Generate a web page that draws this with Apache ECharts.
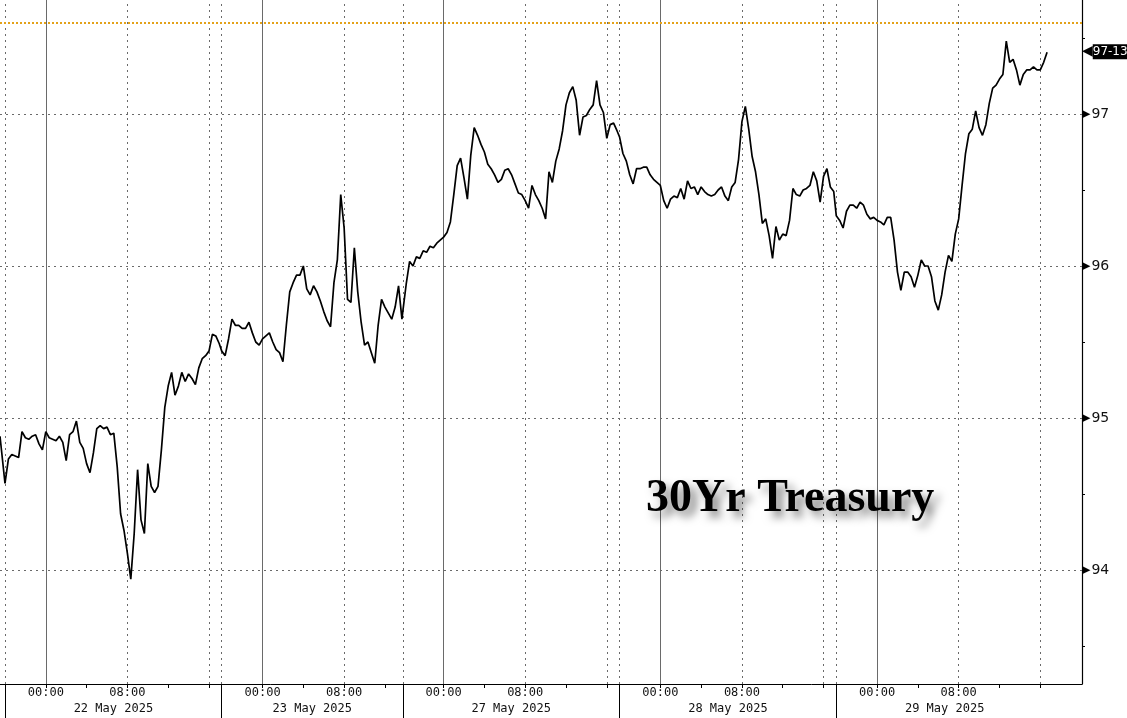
<!DOCTYPE html>
<html><head><meta charset="utf-8">
<script src="https://cdn.jsdelivr.net/npm/echarts@6/dist/echarts.min.js"></script>
<style>html,body{margin:0;padding:0;background:#fff}#c{width:1127px;height:718px}</style>
</head><body><div id="c"></div>
<script>
// ---- data (compressed trading-time axis, hours; each session opens 20:00 the prior evening) ----
const sessionLabels = ['22 May 2025', '23 May 2025', '27 May 2025', '28 May 2025', '29 May 2025'];
const sessionStartHours = [0, 21.25, 39.0, 60.25, 81.5];
const sessionLengthHours = [21.25, 17.75, 21.25, 21.25, 21.25];
const sessionOpenClock = 20;          // 20:00
const stepHours = 1 / 3;              // 20-minute samples
const prevSessionClose = [94.88];

const may22 = [94.57, 94.73, 94.76, 94.75, 94.74, 94.91, 94.87, 94.86, 94.88, 94.89,
  94.83, 94.79, 94.91, 94.87, 94.86, 94.85, 94.88, 94.84, 94.72, 94.89,
  94.91, 94.98, 94.84, 94.80, 94.70, 94.64, 94.77, 94.93, 94.95, 94.93,
  94.94, 94.89, 94.90, 94.68, 94.37, 94.26, 94.11, 93.94, 94.24, 94.66,
  94.33, 94.24, 94.70, 94.55, 94.51, 94.55, 94.79, 95.07, 95.21, 95.30,
  95.15, 95.21, 95.30, 95.24, 95.29, 95.26, 95.22, 95.33, 95.39, 95.41,
  95.44, 95.55, 95.54, 95.49];
const may23 = [95.44, 95.41, 95.52, 95.65, 95.61, 95.61, 95.59, 95.59, 95.63, 95.56,
  95.50, 95.48, 95.52, 95.54, 95.56, 95.50, 95.45, 95.43, 95.37, 95.61,
  95.83, 95.89, 95.94, 95.94, 96.00, 95.85, 95.81, 95.87, 95.83, 95.77,
  95.70, 95.64, 95.60, 95.89, 96.04, 96.47, 96.25, 95.78, 95.76, 96.12,
  95.83, 95.63, 95.48, 95.50, 95.43, 95.36, 95.61, 95.78, 95.73, 95.69,
  95.65, 95.73, 95.87, 95.65];
const may27 = [95.70, 95.88, 96.03, 96.00, 96.06, 96.05, 96.10, 96.09, 96.13, 96.12,
  96.15, 96.17, 96.19, 96.22, 96.29, 96.47, 96.66, 96.71, 96.58, 96.44,
  96.73, 96.91, 96.86, 96.80, 96.75, 96.67, 96.64, 96.60, 96.55, 96.57,
  96.63, 96.64, 96.60, 96.54, 96.48, 96.47, 96.43, 96.38, 96.53, 96.47,
  96.43, 96.38, 96.31, 96.62, 96.55, 96.69, 96.77, 96.89, 97.06, 97.14,
  97.18, 97.09, 96.86, 96.98, 96.99, 97.03, 97.06, 97.22, 97.06, 97.01,
  96.84, 96.93, 96.94, 96.89];
const may28 = [96.85, 96.74, 96.69, 96.60, 96.54, 96.64, 96.64, 96.65, 96.65, 96.60,
  96.57, 96.55, 96.53, 96.43, 96.38, 96.44, 96.46, 96.45, 96.51, 96.44,
  96.56, 96.51, 96.52, 96.47, 96.52, 96.49, 96.47, 96.46, 96.47, 96.50,
  96.52, 96.46, 96.43, 96.52, 96.55, 96.70, 96.95, 97.05, 96.90, 96.72,
  96.62, 96.47, 96.28, 96.31, 96.20, 96.05, 96.26, 96.17, 96.21, 96.20,
  96.30, 96.51, 96.47, 96.46, 96.50, 96.51, 96.53, 96.62, 96.56, 96.42,
  96.59, 96.64, 96.52, 96.49];
const may29 = [96.33, 96.30, 96.25, 96.36, 96.40, 96.40, 96.38, 96.42, 96.40, 96.34,
  96.31, 96.32, 96.30, 96.29, 96.27, 96.32, 96.32, 96.17, 95.96, 95.84,
  95.96, 95.96, 95.93, 95.86, 95.94, 96.04, 96.00, 96.00, 95.93, 95.77,
  95.71, 95.81, 95.96, 96.07, 96.03, 96.21, 96.31, 96.53, 96.74, 96.87,
  96.90, 97.02, 96.91, 96.86, 96.93, 97.07, 97.17, 97.19, 97.23, 97.26,
  97.48, 97.34, 97.36, 97.29, 97.19, 97.26, 97.29, 97.29, 97.31, 97.29,
  97.29, 97.34, 97.40625];
const sessionValues = [may22, may23, may27, may28, may29];

const yLabelValues = [94, 95, 96, 97];
const yMinorTickValues = [93.5, 94.5, 95.5, 96.5, 97.5];
const referenceLevel = 97.6;
const lastPriceLabel = '97-13';
const chartTitle = '30Yr Treasury';

// ---- build ----
const lineData = [[sessionStartHours[0] - 0.49, prevSessionClose[0]]];
sessionValues.forEach((arr, s) => arr.forEach((v, i) => lineData.push([sessionStartHours[s] + i * stepHours, v])));
const lastValue = may29[may29.length - 1];

const tickHours = [], timeLabelHours = [], gridLines = [], centers = [];
sessionStartHours.forEach((st, s) => {
  const len = sessionLengthHours[s];
  [4, 8, 12, 16, 20].forEach(k => { if (k < len) tickHours.push(st + k); });
  timeLabelHours.push(st + 4, st + 12);
  const dotted = { color: '#6a6a6a', type: [2, 4], width: 1 };
  gridLines.push({ xAxis: st, lineStyle: dotted });
  gridLines.push({ xAxis: st + 4, lineStyle: { color: '#6a6a6a', type: 'solid', width: 1 } });
  gridLines.push({ xAxis: st + 12, lineStyle: dotted });
  if (20 < len) gridLines.push({ xAxis: st + 20, lineStyle: dotted });
  centers.push(st + len / 2);
});
yLabelValues.forEach(v => gridLines.push({ yAxis: v, lineStyle: { color: '#6a6a6a', type: [2, 4], width: 1 } }));

function sessionOf(v) {
  let s = 0;
  sessionStartHours.forEach((st, i) => { if (st <= v + 1e-6) s = i; });
  return s;
}
const axisFont = "'DejaVu Sans Mono', monospace";

const chart = echarts.init(document.getElementById('c'), null, { renderer: 'canvas' });
chart.setOption({
  animation: false,
  backgroundColor: '#fff',
  title: {
    text: chartTitle, left: 641, top: 471,
    textStyle: {
      fontFamily: "'Liberation Serif', 'Times New Roman', serif", fontWeight: 'bold', fontSize: 46, color: '#000',
      textShadowColor: 'rgba(0,0,0,0.5)', textShadowBlur: 9, textShadowOffsetX: 6, textShadowOffsetY: 6
    }
  },
  grid: { left: 0, right: 45, top: 0, bottom: 34, containLabel: false },
  xAxis: [{
    type: 'value', min: -0.49, max: 105.59, position: 'bottom',
    axisLine: { show: true, onZero: false, lineStyle: { color: '#000', width: 1 } },
    axisTick: { show: true, customValues: tickHours, length: 4, lineStyle: { color: '#000' } },
    axisLabel: {
      show: true, customValues: timeLabelHours, margin: 3, color: '#111', fontFamily: axisFont, fontSize: 12,
      formatter: v => {
        const s = sessionOf(v);
        const h = Math.round(sessionOpenClock + v - sessionStartHours[s]) % 24;
        return String(h).padStart(2, '0') + ':00';
      }
    },
    splitLine: { show: false }
  }, {
    type: 'value', min: -0.49, max: 105.59, position: 'bottom',
    axisLine: { show: false, onZero: false },
    axisTick: { show: true, customValues: sessionStartHours, length: 34, lineStyle: { color: '#000', width: 1 } },
    axisLabel: {
      show: true, customValues: centers, margin: 19, color: '#111', fontFamily: axisFont, fontSize: 12,
      formatter: v => {
        let best = 0;
        centers.forEach((c, i) => { if (Math.abs(c - v) < Math.abs(centers[best] - v)) best = i; });
        return sessionLabels[best];
      }
    },
    splitLine: { show: false }
  }],
  yAxis: {
    type: 'value', position: 'right', min: 93.25, max: 97.75, interval: 0.25,
    axisLine: { show: true, onZero: false, lineStyle: { color: '#000', width: 1.2 } },
    axisTick: { show: true, customValues: yMinorTickValues, length: 3, lineStyle: { color: '#000' } },
    axisLabel: {
      show: true, customValues: yLabelValues, margin: 0, fontSize: 14, color: '#111',
      fontFamily: "'DejaVu Sans', sans-serif",
      formatter: v => '{t|▶}{v|' + v + '}',
      rich: {
        t: { fontSize: 11, color: '#000', fontFamily: "'DejaVu Sans', sans-serif" },
        v: { fontSize: 14, color: '#111', fontFamily: "'DejaVu Sans', sans-serif", padding: [0, 0, 0, 1] }
      }
    },
    splitLine: { show: false }
  },
  series: [{
    type: 'line', z: 1, xAxisIndex: 0, data: [lineData[0]], symbol: 'none', silent: true,
    lineStyle: { opacity: 0 },
    markLine: { silent: true, symbol: 'none', label: { show: false }, animation: false, data: gridLines }
  }, {
    type: 'line', z: 2, xAxisIndex: 0, data: [lineData[0]], symbol: 'none', silent: true,
    lineStyle: { opacity: 0 },
    markLine: {
      silent: true, symbol: 'none', label: { show: false }, animation: false,
      data: [{ yAxis: referenceLevel, lineStyle: { color: '#e3a21a', type: [2, 2], width: 2 } }]
    }
  }, {
    type: 'line', z: 5, xAxisIndex: 0, data: lineData, showSymbol: false, symbol: 'none',
    lineStyle: { color: '#000', width: 1.7 },
    markLine: {
      silent: true, symbol: 'none', animation: false,
      data: [{
        yAxis: lastValue, lineStyle: { color: 'rgba(0,0,0,0)', width: 0 },
        label: {
          show: true, position: 'end', distance: 0, fontSize: 12,
          fontFamily: "'DejaVu Sans', sans-serif",
          formatter: '{a|◀}{b|' + lastPriceLabel + '}',
          rich: {
            a: { fontSize: 14, color: '#000', fontFamily: "'DejaVu Sans', sans-serif" },
            b: { backgroundColor: '#000', color: '#fff', fontSize: 12, lineHeight: 14, padding: [2, 1, 1, 0], fontFamily: "'DejaVu Sans', sans-serif" }
          }
        }
      }]
    }
  }]
});
</script></body></html>
